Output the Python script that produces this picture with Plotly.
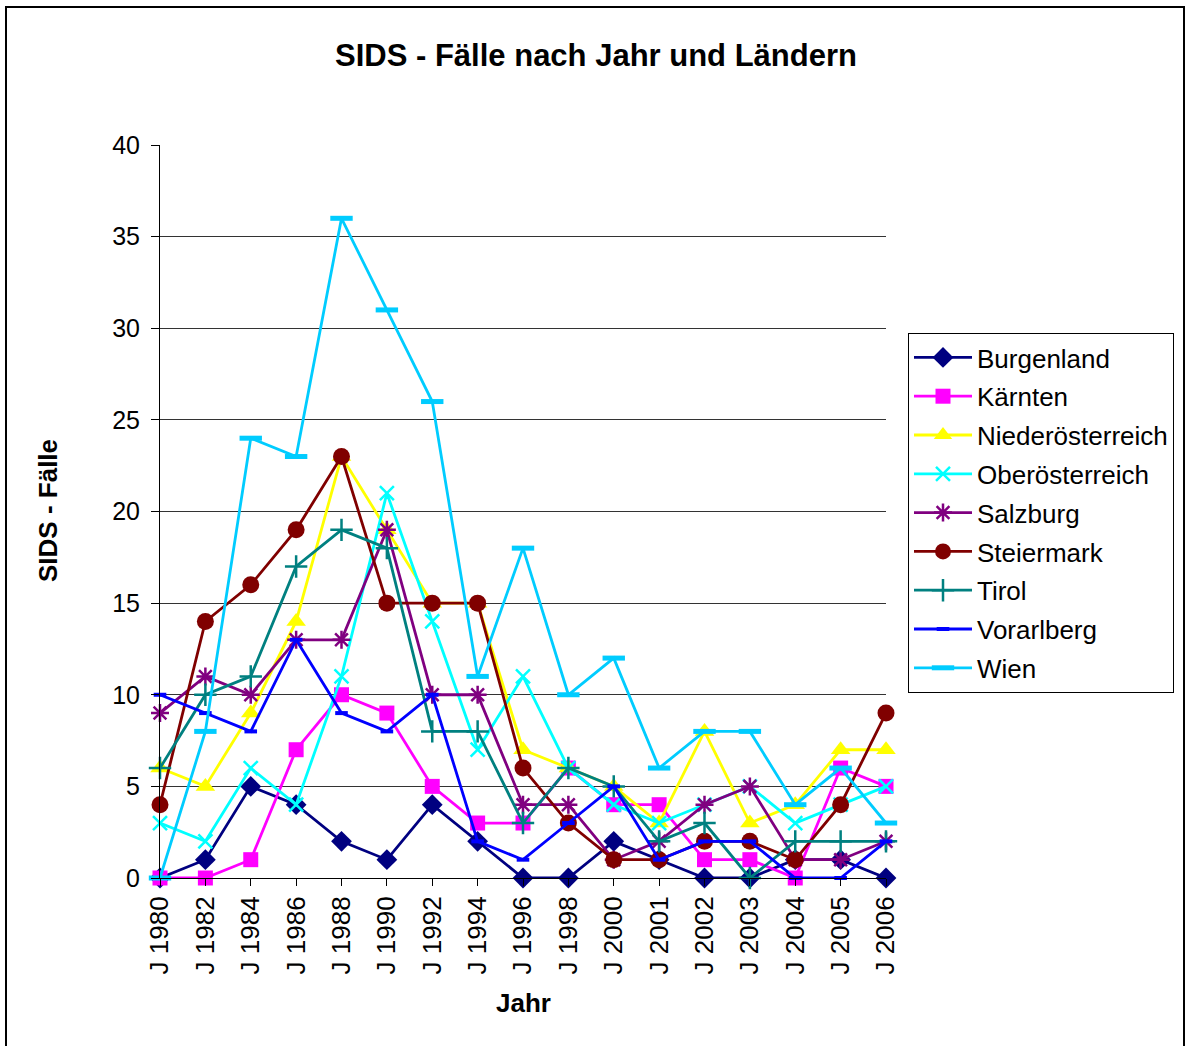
import plotly.graph_objects as go

years = ["J 1980", "J 1982", "J 1984", "J 1986", "J 1988", "J 1990", "J 1992", "J 1994",
         "J 1996", "J 1998", "J 2000", "J 2001", "J 2002", "J 2003", "J 2004", "J 2005", "J 2006"]

burgenland = [0, 1, 5, 4, 2, 1, 4, 2, 0, 0, 2, 1, 0, 0, 1, 1, 0]
kaernten = [0, 0, 1, 7, 10, 9, 5, 3, 3, 6, 4, 4, 1, 1, 0, 6, 5]
niederoesterreich = [6, 5, 9, 14, 23, 19, 15, 15, 7, 6, 5, 3, 8, 3, 4, 7, 7]
oberoesterreich = [3, 2, 6, 4, 11, 21, 14, 7, 11, 6, 4, 3, 4, 5, 3, 4, 5]
salzburg = [9, 11, 10, 13, 13, 19, 10, 10, 4, 4, 1, 2, 4, 5, 1, 1, 2]
steiermark = [4, 14, 16, 19, 23, 15, 15, 15, 6, 3, 1, 1, 2, 2, 1, 4, 9]
tirol = [6, 10, 11, 17, 19, 18, 8, 8, 3, 6, 5, 2, 3, 0, 2, 2, 2]
vorarlberg = [10, 9, 8, 13, 9, 8, 10, 2, 1, 3, 5, 1, 2, 2, 0, 0, 2]
wien = [0, 8, 24, 23, 36, 31, 26, 11, 18, 10, 12, 6, 8, 8, 4, 6, 3]

series = [
    ("Burgenland", burgenland, "#000080", "diamond", 16, 0),
    ("Kärnten", kaernten, "#FF00FF", "square", 15, 0),
    ("Niederösterreich", niederoesterreich, "#FFFF00", "triangle-up", 17, 0),
    ("Oberösterreich", oberoesterreich, "#00FFFF", "x-thin", 14, 2.5),
    ("Salzburg", salzburg, "#800080", "asterisk", 15, 2.5),
    ("Steiermark", steiermark, "#800000", "circle", 17, 0),
    ("Tirol", tirol, "#008080", "cross-thin", 16, 2.5),
    ("Vorarlberg", vorarlberg, "#0000FF", "line-ew", 9, 4),
    ("Wien", wien, "#00CCFF", "line-ew", 16, 5),
]

FONT = "Liberation Sans, Arial, sans-serif"

fig = go.Figure()
for name, vals, color, sym, size, lw in series:
    marker = dict(symbol=sym, size=size, color=color)
    if lw:
        marker["line"] = dict(color=color, width=lw)
    else:
        marker["line"] = dict(width=0)
    fig.add_trace(go.Scatter(
        x=years, y=vals, name=name, mode="lines+markers",
        line=dict(color=color, width=2.8), marker=marker,
        legendgroup=name, cliponaxis=False,
    ))

W, H = 1187, 1046
L, R, T, B = 160, 886, 145, 878

def px(xp):
    return (xp - L) / (R - L)

def py(yp):
    return (B - yp) / (B - T)

fig.update_layout(
    width=W, height=H,
    margin=dict(l=L, r=W - R, t=T, b=H - B, autoexpand=False),
    paper_bgcolor="white", plot_bgcolor="white",
    font=dict(family=FONT, size=26, color="black"),
    title=dict(text="<b>SIDS - Fälle nach Jahr und Ländern</b>",
               x=596 / W, y=1 - 55 / H, xanchor="center", yanchor="middle",
               font=dict(size=31, family=FONT, color="black")),
    showlegend=True,
    legend=dict(x=px(908), y=py(333), xanchor="left", yanchor="top",
                bordercolor="black", borderwidth=1, bgcolor="white",
                font=dict(size=26, family=FONT, color="black"),
                tracegroupgap=2, itemwidth=58),
    xaxis=dict(type="category", range=[0, 16], showline=True, linecolor="black", linewidth=1,
               ticks="outside", ticklen=7, tickcolor="black", tickangle=-90,
               showgrid=False, zeroline=False, tickfont=dict(size=26)),
    yaxis=dict(range=[0, 40], dtick=5, showline=True, linecolor="black", linewidth=1,
               ticks="outside", ticklen=8, tickcolor="black",
               showgrid=True, gridcolor="#333333", gridwidth=1, zeroline=False,
               tickfont=dict(size=25), ticklabelstandoff=6),
    annotations=[
        dict(text="<b>SIDS - Fälle</b>", x=px(48), y=py(511), xref="paper", yref="paper",
             textangle=-90, showarrow=False, xanchor="center", yanchor="middle",
             font=dict(size=26, family=FONT, color="black")),
        dict(text="<b>Jahr</b>", x=px(523), y=py(1003), xref="paper", yref="paper",
             showarrow=False, xanchor="center", yanchor="middle",
             font=dict(size=26, family=FONT, color="black")),
    ],
    shapes=[
        dict(type="rect", xref="paper", yref="paper", x0=px(6), x1=px(1184), y0=py(1060), y1=py(7),
             line=dict(color="black", width=2), layer="below"),
    ],
)

fig.write_html("out.html", config={"displayModeBar": False},
               post_script="document.body.style.margin='0';")
